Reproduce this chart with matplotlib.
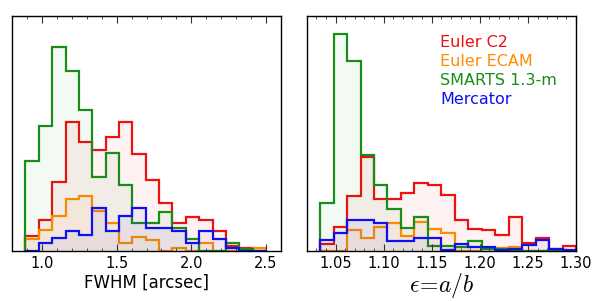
import numpy as np
import matplotlib
matplotlib.use("Agg")
import matplotlib.pyplot as plt
from matplotlib.ticker import MultipleLocator, NullLocator

plt.rcParams['mathtext.fontset'] = 'cm'

# ---- data: FWHM histogram (left) ----
fwhm_edges = np.linspace(0.89, 2.50, 19)
fwhm_red    = [4.5, 9.3, 20.8, 38.8, 32.8, 30.3, 34.3, 38.8, 29.1, 21.3, 14.5, 8.3, 10.3, 9.3, 6.0, 1.5, 1.0, 0.0]
fwhm_orange = [3.5, 6.3, 10.5, 15.5, 16.5, 12.0, 8.5, 2.3, 4.3, 3.3, 0.0, 1.0, 0.0, 2.3, 0.0, 0.0, 0.0, 1.0]
fwhm_green  = [27.1, 37.5, 61.1, 54.1, 42.3, 22.3, 29.3, 19.8, 8.5, 8.5, 11.8, 6.8, 3.5, 0.0, 0.0, 2.3, 0.5, 0.0]
fwhm_blue   = [0.0, 2.3, 3.8, 6.0, 4.8, 12.8, 6.0, 10.5, 12.8, 6.8, 6.8, 6.0, 2.3, 6.0, 3.5, 1.0, 0.0, 0.0]

# ---- data: ellipticity histogram (right) ----
ell_edges = np.linspace(1.034, 1.300, 20)
ell_red    = [2.0, 7.1, 16.5, 28.3, 15.5, 15.5, 17.5, 20.5, 19.8, 16.8, 9.3, 6.5, 6.3, 4.8, 10.1, 2.3, 3.8, 0.5, 1.5]
ell_orange = [0.0, 0.0, 6.3, 4.0, 7.3, 8.5, 4.5, 8.8, 6.5, 5.3, 0.0, 0.0, 0.8, 0.8, 1.3, 0.0, 0.0, 0.0, 0.0]
ell_green  = [14.5, 65.1, 57.0, 28.8, 19.8, 12.5, 6.8, 10.3, 1.5, 1.5, 1.1, 3.1, 0.5, 0.5, 0.3, 0.0, 0.0, 0.0, 0.0]
ell_blue   = [3.3, 5.5, 9.3, 9.3, 8.5, 3.1, 3.1, 4.0, 3.8, 0.3, 2.0, 1.3, 1.3, 0.3, 0.5, 1.8, 3.3, 0.5, 0.3]

labels = ["Euler C2", "Euler ECAM", "SMARTS 1.3-m", "Mercator"]
colors = ["#ee1111", "#ff8c00", "#1a8c1a", "#1010ee"]

fig = plt.figure(figsize=(6.0, 3.01), dpi=100)
H = 301.0
axL = fig.add_axes([12/600, (H-251)/H, 269/600, 235/H])
axR = fig.add_axes([306.7/600, (H-251)/H, 269.3/600, 235/H])

def draw(ax, edges, series):
    for vals, c in zip(series, colors):
        ax.stairs(vals, edges, fill=True, color=c, alpha=0.05, linewidth=0)
        ax.stairs(vals, edges, fill=False, color=c, linewidth=1.6, baseline=0)

draw(axL, fwhm_edges, [fwhm_red, fwhm_orange, fwhm_green, fwhm_blue])
draw(axR, ell_edges, [ell_red, ell_orange, ell_green, ell_blue])

for ax in (axL, axR):
    ax.set_ylim(0, 70.5)
    ax.yaxis.set_major_locator(NullLocator())
    ax.yaxis.set_minor_locator(NullLocator())
    ax.tick_params(axis='x', which='both', direction='in', top=True, bottom=True,
                   labelsize=10.5, color='#333333')
    ax.tick_params(axis='x', which='major', length=5)
    ax.tick_params(axis='x', which='minor', length=2.5)
    for s in ax.spines.values():
        s.set_linewidth(1.0)

axL.set_xlim(0.8, 2.6)
axL.xaxis.set_major_locator(MultipleLocator(0.5))
axL.xaxis.set_minor_locator(MultipleLocator(0.1))
axL.set_xlabel("FWHM [arcsec]", fontsize=12, labelpad=2)

axR.set_xlim(1.02, 1.30)
axR.xaxis.set_major_locator(MultipleLocator(0.05))
axR.xaxis.set_minor_locator(MultipleLocator(0.01))
axR.set_xlabel(r"$\epsilon\!=\!a/b$", fontsize=17, labelpad=0, math_fontfamily='cm')

ys = [0.886, 0.806, 0.725, 0.643]
for lab, c, y in zip(labels, colors, ys):
    axR.text(0.495, y, lab, color=c, fontsize=11.5, transform=axR.transAxes,
             ha='left', va='center')

fig.savefig("out.png", dpi=100)
